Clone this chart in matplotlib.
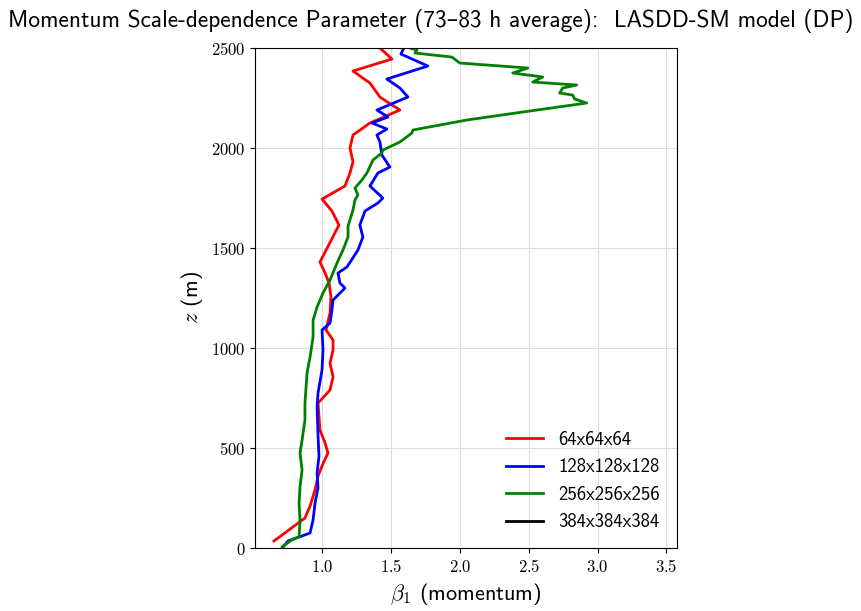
import matplotlib
matplotlib.use("Agg")
import matplotlib.pyplot as plt
from matplotlib.ticker import FuncFormatter

plt.rcParams['mathtext.fontset'] = 'cm'

#------------------------------------------------------------------------------
# Data

z_64 = [35, 150, 210, 290, 360, 410, 475, 525, 590, 725, 790, 855, 925, 990,
        1040, 1090, 1175, 1255, 1325, 1375, 1430, 1615, 1685, 1745, 1810,
        1875, 1930, 2000, 2065, 2125, 2190, 2225, 2255, 2325, 2385, 2445, 2500]
b_64 = [0.649, 0.874, 0.911, 0.947, 0.969, 0.998, 1.041, 1.020, 0.983, 0.969,
        1.056, 1.078, 1.056, 1.078, 1.078, 1.027, 1.056, 1.063, 1.049, 1.020,
        0.983, 1.121, 1.070, 0.998, 1.165, 1.201, 1.223, 1.201, 1.223, 1.346,
        1.564, 1.484, 1.419, 1.346, 1.223, 1.506, 1.419]

z_128 = [5, 35, 75, 140, 225, 300, 375, 460, 560, 705, 775, 890, 990, 1090,
         1125, 1190, 1240, 1300, 1325, 1375, 1405, 1490, 1555, 1615, 1685,
         1725, 1750, 1810, 1875, 1905, 1965, 2030, 2065, 2095, 2125, 2155,
         2190, 2255, 2300, 2345, 2410, 2470, 2500]
b_128 = [0.715, 0.751, 0.911, 0.933, 0.947, 0.969, 0.962, 0.976, 0.969, 0.962,
         0.969, 0.998, 1.005, 0.998, 1.056, 1.070, 1.078, 1.165, 1.128, 1.114,
         1.179, 1.259, 1.295, 1.273, 1.310, 1.404, 1.440, 1.346, 1.404, 1.491,
         1.433, 1.419, 1.397, 1.469, 1.361, 1.477, 1.397, 1.622, 1.564, 1.469,
         1.767, 1.571, 1.593]

z_256 = [5, 45, 55, 140, 225, 305, 390, 475, 540, 640, 725, 875, 955, 1055,
         1140, 1205, 1275, 1340, 1425, 1490, 1555, 1610, 1690, 1740, 1765,
         1800, 1840, 1875, 1940, 1975, 1990, 2030, 2075, 2090, 2140, 2180,
         2225, 2245, 2265, 2275, 2300, 2315, 2330, 2355, 2375, 2400, 2425,
         2455, 2475, 2490, 2500]
b_256 = [0.708, 0.787, 0.831, 0.838, 0.831, 0.838, 0.853, 0.838, 0.853, 0.874,
         0.874, 0.889, 0.911, 0.933, 0.933, 0.962, 1.005, 1.056, 1.107, 1.150,
         1.187, 1.187, 1.223, 1.237, 1.259, 1.237, 1.288, 1.324, 1.368, 1.433,
         1.440, 1.564, 1.651, 1.658, 2.050, 2.456, 2.921, 2.834, 2.819, 2.725,
         2.747, 2.848, 2.529, 2.602, 2.384, 2.493, 1.999, 1.941, 1.673, 1.687,
         1.637]

# 384 run has no data in this window
z_384 = []
b_384 = []

labels = ['64x64x64', '128x128x128', '256x256x256', '384x384x384']
colors = ['red', 'blue', 'green', 'black']

#------------------------------------------------------------------------------
# Plot

sans = ['cmss10', 'DejaVu Sans']

fig = plt.figure(figsize=(8.62, 6.11), dpi=100)
ax = fig.add_axes([0.296, 0.1031, 0.489, 0.8183])

for b, z, lab, c in zip([b_64, b_128, b_256, b_384], [z_64, z_128, z_256, z_384],
                        labels, colors):
    ax.plot(b, z, color=c, lw=2, label=lab)

ax.set_xlim(0.512, 3.575)
ax.set_ylim(0, 2500)
ax.set_xticks([1.0, 1.5, 2.0, 2.5, 3.0, 3.5])
ax.set_yticks([0, 500, 1000, 1500, 2000, 2500])
ax.xaxis.set_major_formatter(FuncFormatter(lambda v, p: r'$%.1f$' % v))
ax.yaxis.set_major_formatter(FuncFormatter(lambda v, p: r'$%d$' % v))
ax.tick_params(labelsize=12)
ax.grid(True, color='#dddddd', lw=0.8)

ax.set_xlabel(r'$\beta_1$ (momentum)', fontsize=16, family=sans)
ax.set_ylabel(r'$z$ (m)', fontsize=16, family=sans)
fig.suptitle('Momentum Scale-dependence Parameter (73\u201383 h average):  LASDD-SM model (DP)',
             fontsize=16.8, family=sans, y=0.985)

leg = ax.legend(loc='lower right', frameon=False, labelspacing=0.5,
                prop={'family': sans, 'size': 13.5})

plt.savefig('out.png', dpi=100)
